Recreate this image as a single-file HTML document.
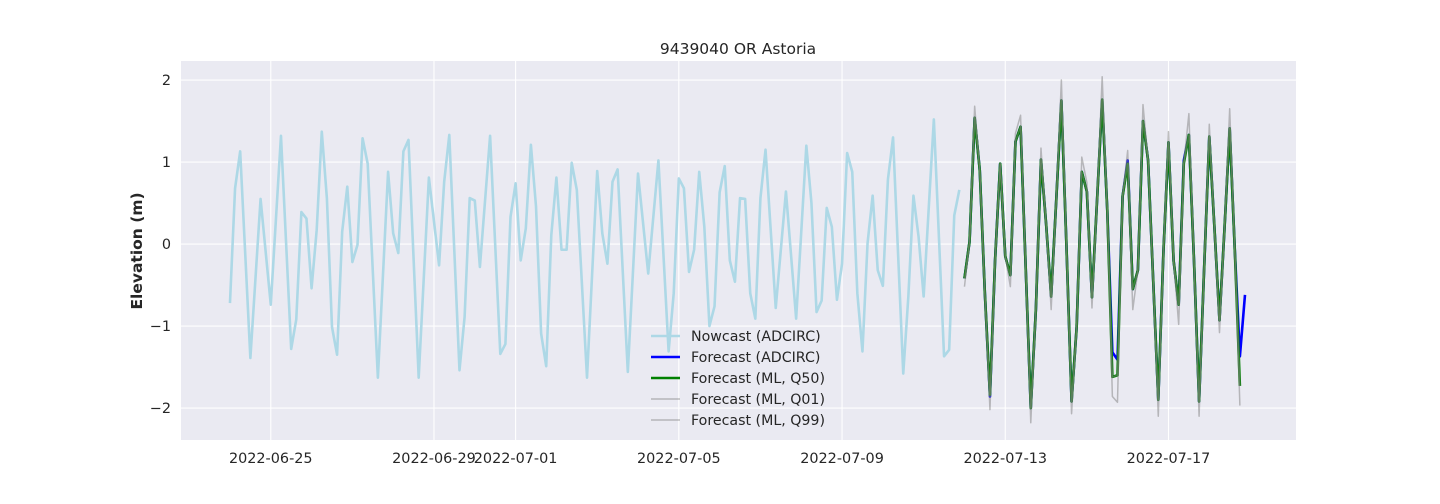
<!DOCTYPE html>
<html><head><meta charset="utf-8">
<style>
html,body{margin:0;padding:0;background:#fff;}
svg{display:block;font-family:"DejaVu Sans","Liberation Sans",sans-serif;}
</style></head>
<body>
<svg id="chart" width="1440" height="504" viewBox="0 0 1440 504" xmlns="http://www.w3.org/2000/svg">
  <rect x="0" y="0" width="1440" height="504" fill="#ffffff"/>
  <rect x="181" y="61" width="1115" height="379" fill="#eaeaf2"/>
  <g id="grid"></g>
  <g id="series"></g>
  <g id="axes"></g>
  <text x="738" y="54" text-anchor="middle" font-size="15.5" fill="#262626">9439040 OR Astoria</text>
  <text transform="translate(142,251) rotate(-90)" text-anchor="middle" font-size="15.5" font-weight="bold" fill="#262626">Elevation (m)</text>
  <g id="legend"></g>
</svg>
<script>
// hours since 2022-06-24 00:00
const nowH=[0,3,6,12,18,24,30,36,39,42,45,48,51,54,57,60,63,66,69,72,75,78,81,87,93,96,99,102,105,111,117,123,126,129,135,138,141,144,147,153,159,162,165,168,171,174,177,180,183,186,189,192,195,198,201,204,210,216,219,222,225,228,234,240,246,252,258,261,264,267,270,273,276,279,282,285,288,291,294,297,300,303,306,309,312,315,321,327,333,339,342,345,348,351,354,357,360,363,366,369,372,375,378,381,384,387,390,396,399,402,405,408,414,420,423,426,429];
const nowV=[-0.72,0.68,1.13,-1.39,0.55,-0.74,1.32,-1.28,-0.92,0.39,0.31,-0.54,0.17,1.37,0.56,-1.01,-1.35,0.15,0.70,-0.22,-0.01,1.29,0.98,-1.63,0.88,0.13,-0.11,1.13,1.27,-1.63,0.81,-0.26,0.76,1.33,-1.54,-0.89,0.56,0.53,-0.28,1.32,-1.34,-1.22,0.33,0.74,-0.20,0.19,1.21,0.46,-1.09,-1.49,0.11,0.81,-0.07,-0.07,0.99,0.66,-1.63,0.89,0.13,-0.24,0.76,0.91,-1.56,0.86,-0.36,1.02,-1.31,-0.60,0.80,0.68,-0.34,-0.07,0.88,0.21,-1.00,-0.76,0.63,0.95,-0.20,-0.46,0.56,0.55,-0.60,-0.91,0.56,1.15,-0.78,0.64,-0.91,1.20,0.50,-0.83,-0.69,0.44,0.21,-0.68,-0.24,1.11,0.88,-0.60,-1.31,0.01,0.59,-0.32,-0.51,0.79,1.30,-1.58,-0.64,0.59,0.09,-0.64,1.52,-1.37,-1.29,0.35,0.66];
const fcStartH=432;
const fcStepH=3;
const fcAdcirc=[-0.42,0.03,1.54,0.90,-0.60,-1.86,-0.20,0.98,-0.15,-0.38,1.25,1.43,-0.28,-2.00,-0.80,1.03,0.25,-0.64,0.54,1.75,-0.03,-1.92,-1.01,0.88,0.64,-0.65,0.54,1.76,0.41,-1.32,-1.41,0.58,1.02,-0.55,-0.32,1.50,1.02,-0.44,-1.90,-0.11,1.24,-0.20,-0.74,1.02,1.33,-0.20,-1.92,-0.28,1.31,0.21,-0.93,0.21,1.41,-0.07,-1.37,-0.62];
const fcQ50=[-0.42,0.03,1.54,0.90,-0.60,-1.84,-0.20,0.98,-0.15,-0.38,1.25,1.43,-0.28,-2.00,-0.80,1.03,0.25,-0.64,0.54,1.75,-0.03,-1.92,-1.01,0.88,0.64,-0.65,0.54,1.76,0.41,-1.62,-1.60,0.58,0.98,-0.55,-0.32,1.50,1.02,-0.44,-1.90,-0.11,1.24,-0.20,-0.74,0.98,1.33,-0.20,-1.92,-0.28,1.31,0.21,-0.93,0.21,1.41,-0.07,-1.73];
const fcQ01=[-0.52,0.03,1.54,0.90,-0.60,-2.02,-0.20,0.98,-0.15,-0.52,1.25,1.43,-0.28,-2.18,-0.80,1.03,0.25,-0.80,0.54,1.75,-0.03,-2.07,-1.01,0.88,0.64,-0.78,0.54,1.76,0.41,-1.86,-1.93,0.58,0.98,-0.80,-0.32,1.50,1.02,-0.44,-2.10,-0.11,1.24,-0.20,-0.98,0.98,1.33,-0.20,-2.10,-0.28,1.31,0.21,-1.08,0.21,1.41,-0.07,-1.97];
const fcQ99=[-0.42,0.03,1.68,0.90,-0.60,-1.84,-0.20,0.98,-0.15,-0.38,1.35,1.57,-0.28,-2.00,-0.80,1.17,0.25,-0.64,0.54,2.00,-0.03,-1.92,-1.01,1.06,0.75,-0.65,0.54,2.04,0.41,-1.62,-1.60,0.58,1.14,-0.55,-0.32,1.70,1.02,-0.44,-1.90,-0.11,1.37,-0.20,-0.74,0.98,1.59,-0.20,-1.92,-0.28,1.46,0.21,-0.93,0.21,1.65,-0.07,-1.73];
const xTickHours=[24,120,168,264,360,456,552];
const xTickLabels=['2022-06-25','2022-06-29','2022-07-01','2022-07-05','2022-07-09','2022-07-13','2022-07-17'];
const yTicks=[-2,-1,0,1,2];
const legendLabels=['Nowcast (ADCIRC)','Forecast (ADCIRC)','Forecast (ML, Q50)','Forecast (ML, Q01)','Forecast (ML, Q99)'];

const NS='http://www.w3.org/2000/svg';
const L=181,R=1296,T=61,B=440;
const hMin=-28.8,hMax=627;
const vMin=-2.39,vMax=2.232;
function xs(h){return L+(h-hMin)/(hMax-hMin)*(R-L);}
function ys(v){return B-(v-vMin)/(vMax-vMin)*(B-T);}
function mk(tag,attrs,parent){const e=document.createElementNS(NS,tag);for(const k in attrs)e.setAttribute(k,attrs[k]);parent.appendChild(e);return e;}

const grid=document.getElementById('grid');
const axes=document.getElementById('axes');
xTickHours.forEach((h,i)=>{
  const x=xs(h);
  const g=mk('line',{x1:x,x2:x,y1:T,y2:B,stroke:'#ffffff','stroke-width':1.1},grid);
  
  
  const t=mk('text',{x:x,y:463,'text-anchor':'middle','font-size':14.4,fill:'#262626'},axes);
  t.textContent=xTickLabels[i];
  
  
});
yTicks.forEach(v=>{
  const y=ys(v);
  const g=mk('line',{x1:L,x2:R,y1:y,y2:y,stroke:'#ffffff','stroke-width':1.1},grid);
  
  
  const t=mk('text',{x:171,y:y+5,'text-anchor':'end','font-size':14.4,fill:'#262626'},axes);
  t.textContent=(v<0?'\u2212'+Math.abs(v):String(v));
  
  
});

const series=document.getElementById('series');
function line(hs,vs,color,w,op,name){
  const n=Math.min(hs.length,vs.length);
  let d='';
  for(let i=0;i<n;i++)d+=(i?'L':'M')+xs(hs[i]).toFixed(2)+','+ys(vs[i]).toFixed(2);
  const p=mk('path',{d:d,fill:'none',stroke:color,'stroke-width':w,'stroke-opacity':op,'stroke-linejoin':'round','stroke-linecap':'butt'},series);
  
  
}
function fcHours(arr){return arr.map((_,i)=>fcStartH+i*fcStepH);}
line(nowH,nowV,'#add8e6',2.6,1,'nowcast-adcirc-line');
line(fcHours(fcAdcirc),fcAdcirc,'#0000ff',2.6,1,'forecast-adcirc-line');
line(fcHours(fcQ50),fcQ50,'#008000',2.6,1,'forecast-ml-q50-line');
line(fcHours(fcQ01),fcQ01,'#808080',1.5,0.5,'forecast-ml-q01-line');
line(fcHours(fcQ99),fcQ99,'#808080',1.5,0.5,'forecast-ml-q99-line');

const legend=document.getElementById('legend');
const lStyles=[['#add8e6',2.6,1],['#0000ff',2.6,1],['#008000',2.6,1],['#808080',1.5,0.5],['#808080',1.5,0.5]];
legendLabels.forEach((lab,i)=>{
  const y=336+i*21;
  const g=mk('g',{},legend);
  
  
  mk('line',{x1:651,x2:680,y1:y,y2:y,stroke:lStyles[i][0],'stroke-width':lStyles[i][1],'stroke-opacity':lStyles[i][2]},g);
  const t=mk('text',{x:691,y:y+5,'font-size':14.2,fill:'#262626'},g);
  t.textContent=lab;
});
</script>
</body></html>
